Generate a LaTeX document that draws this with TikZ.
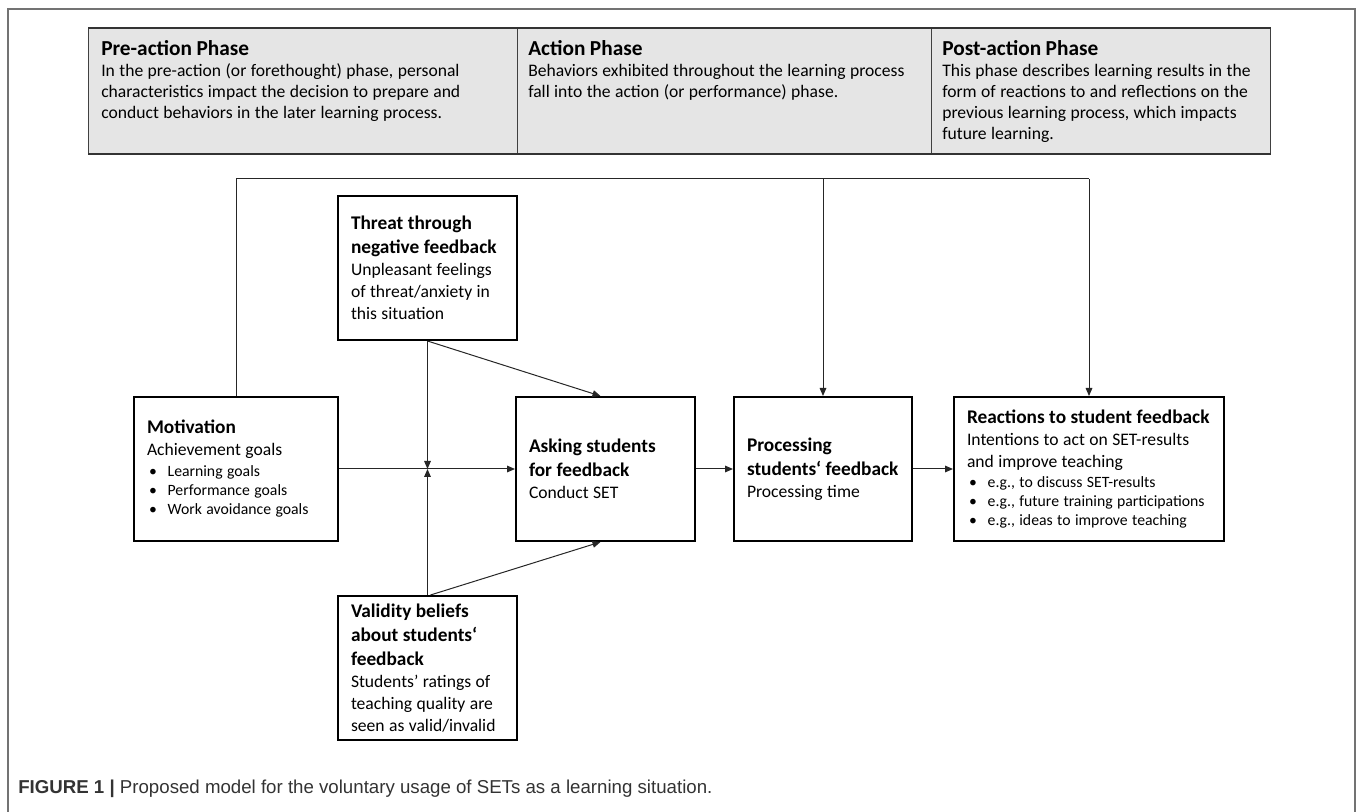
\documentclass[tikz,border=0pt]{standalone}
\usepackage{fontspec}
\setmainfont{Carlito}
\newfontfamily\capfont{Liberation Sans}
\usetikzlibrary{arrows.meta,calc}
\newcommand\titlef{\bfseries\fontsize{14.5}{18}\selectfont}
\newcommand\bodyf{\fontsize{13.2}{16.5}\selectfont}
\newcommand\bulf{\fontsize{11.8}{14.25}\selectfont}
\newcommand\bul[1]{\hspace*{1.5pt}\makebox[14pt][l]{•}#1}
\newcommand\htitle{\bfseries\fontsize{16}{18}\selectfont}
\newcommand\hbody{\fontsize{13.2}{15.75}\selectfont}
\begin{document}
\begin{tikzpicture}[x=0.75pt,y=-0.75pt,
  box/.style={draw=black, line width=1.5pt, fill=white, inner xsep=9.75pt, inner ysep=0pt,
    minimum height=108pt, align=left},
  hcol/.style={draw=black!75, line width=1pt, fill=black!10, minimum height=93.75pt, anchor=north west, inner sep=0pt},
  htext/.style={anchor=north west, inner sep=0pt, align=left},
  conn/.style={draw=black!85, line width=0.75pt},
  arr/.style={conn, -{Triangle[length=6pt,width=5pt]}}]
\useasboundingbox (0,0) rectangle (1357,812);
% outer frame
\draw[black!55, line width=0.9pt] (8,812) -- (8,9) -- (1355,9) -- (1355,812);

% header
\node[hcol, minimum width=321.75pt] (h1) at (88,28) {};
\node[hcol, minimum width=310.5pt] (h2) at (517,28) {};
\node[hcol, minimum width=254.25pt] (h3) at (931,28) {};
\draw[black!80, line width=1.6pt] (h1.north west) -- (h3.north east);
\draw[black!80, line width=1.6pt] (h1.south west) -- (h3.south east);
\node[htext, text width=315pt] (t1) at (101,40) {{\htitle Pre-action Phase\par}{\hbody In the pre-action (or forethought) phase, personal\\characteristics impact the decision to prepare and\\conduct behaviors in the later learning process.\par}};
\node[htext, text width=305pt] (t2) at (528,40) {{\htitle Action Phase\par}{\hbody Behaviors exhibited throughout the learning process\\fall into the action (or performance) phase.\par}};
\node[htext, text width=250pt] (t3) at (942,40) {{\htitle Post-action Phase\par}{\hbody This phase describes learning results in the\\form of reactions to and reflections on the\\previous learning process, which impacts\\future learning.\par}};

% boxes
\node[box, text width=133.5pt] (mot) at (236,469) {{\titlef Motivation\par}{\bodyf Achievement goals\par}\vspace{1.5pt}{\bulf\bul{Learning goals}\\\bul{Performance goals}\\\bul{Work avoidance goals}\par}};
\node[box, text width=114.75pt] (thr) at (427.5,268) {{\titlef Threat through\\negative feedback\par}{\bodyf Unpleasant feelings\\of threat/anxiety in\\this situation\par}};
\node[box, text width=114.75pt] (ask) at (605.5,469) {{\titlef Asking students\\for feedback\par}{\bodyf Conduct SET\par}};
\node[box, text width=114pt] (proc) at (823,469) {{\titlef Processing\\students‘ feedback\par}{\bodyf Processing time\par}};
\node[box, text width=183pt] (reac) at (1089,469) {{\titlef Reactions to student feedback\par}{\bodyf Intentions to act on SET-results\\and improve teaching\par}\vspace{1pt}{\bulf\bul{e.g., to discuss SET-results}\\\bul{e.g., future training participations}\\\bul{e.g., ideas to improve teaching}\par}};
\node[box, text width=114.75pt] (val) at (427.5,668) {{\titlef Validity beliefs\\about students‘\\feedback\par}{\bodyf Students’ ratings of\\teaching quality are\\seen as valid/invalid\par}};

% connectors
\coordinate (tl) at (mot.north |- 0,179);
\coordinate (tp) at (proc.north |- 0,179);
\coordinate (tr) at (reac.north |- 0,179);
\coordinate (jn) at (thr.south |- mot.east);
\draw[conn] (mot.north) -- (tl) -- (tr);
\draw[arr] (tr) -- (reac.north);
\draw[arr] (tp) -- (proc.north);
\draw[arr] (mot.east) -- (ask.west);
\draw[arr] (thr.south) -- (jn);
\draw[arr] (val.north) -- (jn);
\draw[arr] (thr.south) -- ($(ask.north)+(-5,0)$);
\draw[arr] ($(val.north)+(3,0)$) -- ($(ask.south)+(-5,0)$);
\draw[arr] (ask.east) -- (proc.west);
\draw[arr] (proc.east) -- (reac.west);

% caption
\node[anchor=west, inner sep=0pt, font=\capfont\fontsize{14}{16}\selectfont, text=black!80] (cap) at (18,789) {\textbf{FIGURE 1 |} Proposed model for the voluntary usage of SETs as a learning situation.};
\end{tikzpicture}
\end{document}
